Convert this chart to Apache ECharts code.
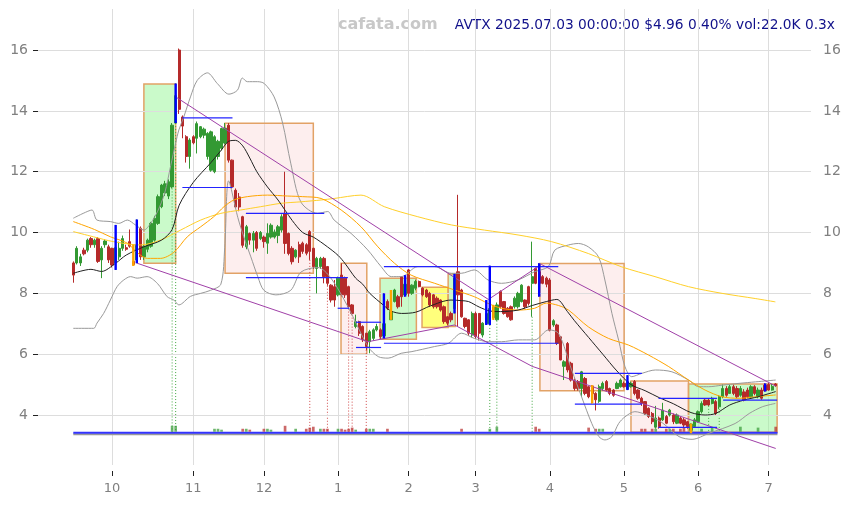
<!DOCTYPE html>
<html><head><meta charset="utf-8">
<script src="https://cdn.jsdelivr.net/npm/echarts@6/dist/echarts.min.js"></script>
<style>html,body{margin:0;padding:0;background:#fff}#c{width:849px;height:505px}</style>
</head><body><div id="c"></div>
<script>
// ---------- data ----------
const startDate = '2024-09-16', endDate = '2025-07-03';
const holidays = ['2024-11-28','2024-12-25','2025-01-01','2025-01-09','2025-01-20','2025-02-17','2025-04-18','2025-05-26','2025-06-19'];
const yTicks = [4, 6, 8, 10, 12, 14, 16];

const opens = [9.00,9.00,9.00,9.42,9.42,9.80,9.60,9.80,9.10,9.60, 9.53,9.48,9.00,9.20,9.48,9.50,9.70,9.05,9.10,10.14, 9.20,9.45,9.55,9.75,10.30,10.85,11.30,11.20,11.50,13.60, 16.00,13.80,13.15,12.50,13.15,13.10,13.15,13.20,12.50,12.05, 12.00,12.50,12.77,12.94,13.53,12.38,11.39,11.17,10.52,9.53, 9.97,9.75,10.00,9.80,9.85,9.65,9.85,9.85,9.90,10.08, 10.63,9.97,9.48,9.20,9.60,9.65,9.60,10.03,9.48,8.82, 8.88,9.15,8.88,8.27,8.22,7.95,8.60,8.50,8.22,7.62, 6.91,7.07,6.91,6.69,6.41,6.52,6.80,6.80,6.60,7.73, 7.13,7.73,7.89,8.55,7.95,8.77,8.00,8.17,8.39,8.17, 8.11,8.00,7.95,7.84,7.78,7.56,7.23,7.34,7.50,8.71, 8.11,7.18,7.13,6.63,7.34,7.34,6.63,7.00,7.00,7.20, 7.13,8.06,7.73,7.51,7.56,7.56,7.56,7.73,7.78,8.22, 8.33,8.82,8.71,8.55,8.50,8.44,6.96,6.96,6.57,5.60, 6.35,5.70,5.15,5.10,4.87,5.20,4.93,4.95,4.71,4.45, 4.87,5.10,4.87,4.82,4.87,4.93,5.04,4.85,4.93,5.10, 4.82,4.55,4.44,4.22,4.05,3.60,3.90,3.84,3.95,4.00, 4.00,3.73,3.90,3.84,3.78,3.50,3.62,3.78,4.11,4.49, 4.49,4.38,4.44,4.27,4.60,4.87,4.71,4.93,4.87,4.65, 4.76,4.82,4.60,4.93,4.60,4.82,4.98,5.00,4.82,5.02];
const closes = [8.60,9.48,9.20,9.30,9.75,9.60,9.75,9.05,9.48,9.72, 9.10,8.93,9.50,9.48,9.80,9.45,9.55,8.95,9.60,9.20, 9.55,9.75,10.30,10.47,11.18,11.56,11.60,11.67,13.53,14.50, 14.05,13.50,12.50,13.04,12.95,13.58,13.48,13.40,13.26,13.31, 13.15,13.00,13.42,13.43,12.38,11.50,10.84,10.84,9.58,10.19, 9.75,9.97,9.48,10.00,9.70,9.97,10.24,10.02,10.19,10.52, 9.64,9.31,9.04,9.42,9.20,9.38,9.32,9.38,8.88,9.15, 9.15,8.55,8.33,7.78,7.78,8.50,7.95,7.95,7.56,7.34, 7.07,6.69,6.47,6.25,6.74,6.80,6.91,6.58,7.00,7.51, 7.40,8.11,7.56,7.89,8.30,8.00,8.27,8.39,8.22,7.95, 7.89,7.62,7.56,7.56,7.45,7.07,7.02,7.13,8.50,7.95, 7.23,6.91,6.69,7.34,6.58,6.69,7.02,7.34,7.50,7.55, 7.62,7.56,7.34,7.23,7.13,7.84,8.00,8.27,7.56,7.67, 8.55,8.33,8.33,8.33,8.30,6.79,7.10,6.35,5.81,5.75, 5.48,5.15,4.87,4.87,5.42,4.71,4.60,4.70,4.50,4.93, 5.04,4.82,4.71,4.65,5.04,5.15,4.93,5.10,5.04,4.71, 4.55,4.38,4.05,3.95,3.78,3.90,3.62,4.16,3.73,4.16, 3.78,4.00,3.73,3.67,3.62,3.70,3.84,4.11,4.38,4.33, 4.33,4.55,4.05,4.60,4.87,4.65,4.93,4.71,4.60,4.87, 4.49,4.60,4.93,4.71,4.82,4.55,4.80,4.82,4.94,4.96];
const highs = [9.05,9.55,9.30,9.50,9.80,9.85,9.80,9.85,9.55,9.78, 9.60,9.50,10.25,9.70,9.90,9.60,10.10,9.60,10.43,10.20, 9.60,9.80,10.35,10.55,11.25,11.60,11.70,11.75,13.60,14.90, 16.05,13.85,13.20,13.10,13.20,13.65,13.50,13.45,13.30,13.35, 13.20,13.05,13.45,13.60,13.60,12.40,11.45,11.30,10.55,10.25, 10.00,10.05,10.05,10.05,9.90,10.30,10.30,10.10,10.25,10.60, 12.00,10.00,9.55,9.45,9.70,9.70,9.65,10.08,9.50,9.20, 9.20,9.20,8.90,8.30,8.44,8.55,8.99,8.55,8.25,7.65, 7.30,7.10,6.95,6.70,6.80,6.85,7.00,6.85,8.00,7.80, 8.11,8.15,7.95,8.55,8.60,8.80,8.30,8.45,8.42,8.20, 8.15,8.05,7.98,7.90,7.80,7.60,7.25,7.40,8.64,11.24, 8.15,7.20,7.15,7.40,7.40,7.35,7.05,7.78,8.91,7.62, 7.70,8.10,7.75,7.55,7.60,7.90,8.05,8.30,7.80,8.25, 9.70,8.85,8.99,8.60,8.55,8.50,7.15,7.00,6.60,5.80, 6.40,5.75,5.20,5.15,5.45,5.25,4.95,4.98,4.75,5.00, 5.10,5.15,4.90,4.85,5.10,5.20,5.10,5.31,5.10,5.15, 4.85,4.60,4.45,4.25,4.10,4.30,3.95,4.40,4.00,4.20, 4.05,4.05,3.95,3.90,3.80,3.72,3.90,4.15,4.45,4.55, 4.55,4.60,4.50,4.65,5.00,4.95,5.00,5.00,4.95,4.95, 4.85,4.90,4.98,4.98,4.90,4.90,5.04,5.05,5.02,5.05];
const lows = [8.35,8.95,8.90,9.25,9.35,9.50,9.50,9.00,8.50,9.50, 9.00,8.85,8.77,9.10,9.40,9.40,9.50,8.90,8.99,9.10, 9.10,9.35,9.50,9.70,10.25,10.80,11.20,11.10,11.45,13.60, 13.90,13.10,12.30,12.10,12.90,12.60,13.10,13.10,12.40,12.00, 11.95,12.40,12.70,12.90,12.30,11.45,10.80,10.70,9.50,9.45, 9.60,9.35,9.40,9.75,9.50,9.30,9.80,9.80,9.65,10.00, 9.30,9.25,8.95,9.15,9.00,9.30,9.25,9.10,8.80,8.00, 8.80,8.33,8.25,7.70,7.56,7.90,7.90,7.85,7.50,7.30, 6.85,6.60,6.40,6.14,6.03,6.45,6.75,6.50,6.52,7.45, 7.13,7.70,7.50,7.56,7.89,7.89,7.95,8.10,8.20,7.90, 7.85,7.55,7.50,7.50,7.40,7.00,6.95,7.05,7.34,6.91, 7.20,6.85,6.60,6.55,6.50,6.45,6.55,6.96,6.96,7.13, 7.10,7.50,7.30,7.20,7.10,7.50,7.50,7.70,7.50,7.60, 7.23,8.30,7.89,8.30,8.20,6.75,6.90,6.30,5.80,5.15, 5.40,5.10,4.80,4.80,4.60,4.65,4.55,4.38,4.15,4.40, 4.80,4.80,4.65,4.60,4.85,4.90,4.90,4.82,4.90,4.65, 4.50,4.30,4.00,3.90,3.70,3.55,3.55,3.80,3.70,3.95, 3.70,3.70,3.70,3.60,3.55,3.40,3.60,3.75,4.05,4.30, 4.30,4.35,4.00,4.20,4.55,4.60,4.70,4.65,4.55,4.60, 4.45,4.55,4.55,4.65,4.55,4.50,4.77,4.80,4.80,4.93];

// indicator lines: [candle index, value]
const ma20 = [[0,8.66],[5,8.79],[8,8.72],[12,8.99],[15,9.26],[20,9.53],[25,9.75],[28,10.1],[30,10.9],[34,11.65],[39,12.3],[42,12.72],[44,13.0],[46,13.03],[48,12.85],[50,12.45],[52,12.0],[55,11.5],[58,11.07],[62,10.4],[65,10.0],[68,9.85],[72,9.53],[75,9.25],[77,8.98],[80,8.5],[82,8.3],[84,8.0],[88,7.6],[90,7.42],[93,7.34],[97,7.38],[101,7.58],[107,7.78],[110,7.76],[112,7.73],[115,7.55],[118,7.42],[121,7.4],[126,7.45],[130,7.6],[134,7.73],[137,7.8],[140,7.4],[142,7.1],[146,6.55],[150,6.0],[154,5.45],[158,5.0],[162,4.8],[166,4.57],[170,4.37],[175,4.08],[179,4.0],[182,4.05],[186,4.33],[190,4.49],[194,4.6],[199,4.77]];
const bbUpper = [[0,10.47],[2.8,10.63],[5.3,10.74],[6.7,10.41],[10.5,10.36],[12.9,10.3],[15.3,10.41],[17.6,10.25],[20,10.08],[21.9,10.3],[23.9,10.7],[25.9,11.3],[27.6,12.2],[29,12.94],[29.9,13.37],[31.3,13.8],[33.2,14.46],[35.1,15.0],[38,15.25],[40.8,14.9],[44.1,14.55],[46.5,14.68],[47.9,15.08],[49.3,14.96],[52.2,14.96],[54.1,14.9],[56.9,14.46],[59.3,13.6],[61.6,12.28],[64.5,11.0],[69.2,10.63],[72.1,10.69],[73.9,10.41],[78.7,9.97],[83.4,9.43],[87.2,8.88],[90.1,8.55],[92.9,8.55],[97.6,8.88],[102.3,8.88],[107.1,8.66],[109.9,8.66],[113.6,8.77],[117.5,8.44],[121.3,8.33],[126,8.44],[130.7,8.71],[134.6,8.88],[136.4,9.42],[140.3,9.59],[143.1,9.64],[145.9,9.53],[148.8,9.2],[150.6,8.44],[152.6,7.34],[154.5,6.46],[156.3,5.59],[158.2,5.26],[161.1,5.37],[164.9,5.48],[169.6,5.42],[174.3,5.15],[177.2,4.93],[180,4.93],[183.8,4.98],[188.6,5.04],[193.3,5.09],[199,5.15]];
const bbLower = [[0,6.85],[5.8,6.85],[6.7,7.02],[8.6,7.34],[10.5,7.78],[12.4,8.22],[14.3,8.44],[16.2,8.55],[18.1,8.5],[20.9,8.55],[23.8,8.33],[26.6,7.89],[28.5,7.78],[29.9,7.62],[33.2,7.9],[36.1,8.0],[38.9,8.1],[41.8,8.3],[42.9,9.5],[44,11.7],[46.6,10.5],[48.3,9.86],[50.3,9.2],[52.3,8.54],[54,8.1],[57.4,7.95],[61.6,8.1],[64.5,8.7],[69.3,8.85],[73,8.5],[77.8,7.56],[83.5,6.25],[86.4,5.92],[89.2,5.87],[92.9,6.03],[95.7,6.08],[102.3,6.25],[106.3,6.36],[110,6.69],[113.6,6.52],[117.6,6.41],[121.3,6.41],[126.1,6.47],[130.7,6.47],[134.7,6.8],[137.5,6.68],[141.2,5.48],[144,4.6],[146.9,3.72],[148.9,3.29],[150.6,3.18],[152.6,3.29],[154.5,3.72],[156.3,3.94],[159.1,4.11],[162.5,4.0],[166.8,3.75],[171.6,3.29],[175.3,3.2],[180.1,3.4],[187.5,3.72],[191.5,4.05],[195.2,4.27],[198.9,4.38]];
const ma50 = [[0,10.36],[6,10.1],[10.5,9.86],[15.3,9.65],[18,9.35],[21,9.15],[24.7,9.15],[28.5,9.35],[32.3,9.86],[36.1,10.19],[39.8,10.52],[42.7,10.85],[45.5,11.07],[49.3,11.18],[55,11.23],[60.7,11.2],[65,11.18],[70.2,11.12],[75.9,10.74],[81.5,10.19],[86.3,9.53],[91,8.99],[95.7,8.6],[102.4,8.33],[108,8.11],[113.6,7.89],[117.5,7.67],[121.3,7.51],[126,7.45],[130.7,7.51],[134,7.68],[137.5,7.6],[140.3,7.45],[145.9,6.9],[151.6,6.52],[157.3,6.3],[163,5.97],[168.7,5.59],[174.3,5.15],[179,4.82],[183.8,4.6],[188.6,4.55],[193.3,4.6],[199,4.66]];
const ma100 = [[0,10.03],[5.7,9.86],[11.4,9.7],[19,9.59],[24.7,9.75],[30.4,10.08],[36.1,10.41],[41.8,10.63],[47.4,10.74],[53.1,10.85],[58.8,10.96],[64.5,11.01],[70.2,11.07],[73.9,11.12],[81.5,11.23],[88.1,10.85],[97.6,10.52],[107.1,10.25],[116.5,10.08],[126,9.92],[135.5,9.7],[145.9,9.31],[155.4,8.87],[164.8,8.55],[174.3,8.22],[183.8,8.0],[193.2,7.83],[198.9,7.72]];
const trendUpper = [[29,14.46],[117.6,7.8],[132.6,8.95],[199,4.95]];
const trendLower = [[18.1,8.99],[83.5,6.41],[108,6.96],[130,5.6],[199,2.9]];
// zones: [from index, to index, low, high, kind 0=green 1=pink 2=yellow]
const zones = [[20,29,8.99,14.88,0],[43,68,8.66,13.59,1],[75.85,83.15,6.0,8.99,1],[86.9,97.2,6.49,8.5,0],[98.8,106.2,6.88,8.2,2],[106.2,108.2,6.91,8.64,0],[132.2,156.05,4.8,8.98,1],[158,174.3,3.43,5.12,1],[174.3,199.4,3.43,5.02,0]];
// blue support / resistance segments: [from, to, level]
const levels = [[30.9,45.1,13.77],[30.9,45.1,11.48],[48.9,71.1,10.63],[48.9,77.8,8.52],[74.9,78.2,7.51],[80.1,87.2,7.05],[80.1,87.2,6.22],[88,137.4,8.88],[88,137.4,6.36],[142.1,161.1,5.37],[142.1,161.1,4.36],[165.8,182.4,4.55],[165.8,182.4,3.59],[184.1,199.4,4.49]];
const blueMarks = [12,18,29,88,94,108,117,118,132,157,196];
const orangeMarks = [17,90,119,147,175];
const dotGreen = [28,29,118,120,130,180,183];
const dotRed = [67,72,78,79,83];
const volIdx = [28,29,40,41,42,48,49,50,54,55,56,60,63,66,67,68,70,71,72,75,76,77,78,79,80,83,84,85,89,110,118,120,131,132,146,148,149,150,161,162,164,165,168,169,170,172,173,175,178,181,189,194,199];
const volK =   [26,26,13,13,9,13,13,9,13,13,9,26,13,13,18,22,13,13,13,13,13,9,13,18,9,13,13,13,13,13,13,22,22,13,18,13,13,13,13,13,13,13,13,13,13,13,18,18,13,18,22,18,22];
const stripLevel = 3.42;

// ---------- build ----------
function tradingDays(s, e) {
  const out = []; const d = new Date(s + 'T00:00:00Z'); const end = new Date(e + 'T00:00:00Z');
  while (d <= end) {
    const wd = d.getUTCDay(); const iso = d.toISOString().slice(0, 10);
    if (wd !== 0 && wd !== 6 && holidays.indexOf(iso) < 0) out.push(iso);
    d.setUTCDate(d.getUTCDate() + 1);
  }
  return out;
}
const dates = tradingDays(startDate, endDate);
const PAD = 10, N = dates.length;
const X = i => i + PAD;
const cats = [];
for (let k = 0; k < PAD; k++) cats.push('L' + k);
dates.forEach(d => cats.push(d));
for (let k = 0; k < PAD; k++) cats.push('R' + k);
const isMonthStart = (k) => { const r = k - PAD; return r >= 1 && r < N && dates[r].slice(0, 7) !== dates[r - 1].slice(0, 7); };
const candle = cats.map((c, k) => { const r = k - PAD; return (r >= 0 && r < N) ? [opens[r], closes[r], lows[r], highs[r]] : '-'; });
const GREEN = '#339933', RED = '#b52a2a';
const pts = arr => arr.map(p => [X(p[0]), p[1]]);
const lineS = (data, color, z, w) => ({ type: 'line', xAxisIndex: 1, data: pts(data), smooth: 0.3, symbol: 'none', silent: true, z: z, lineStyle: { color: color, width: w || 1 } });

const zoneFill = ['rgba(150,245,150,0.5)', 'rgba(250,205,205,0.35)', 'rgba(255,255,80,0.75)'];

const option = {
  animation: false,
  backgroundColor: '#ffffff',
  grid: { left: 38, right: 38, top: 9, bottom: 40 },
  xAxis: [{
    type: 'category', data: cats, boundaryGap: false, offset: 6,
    axisLine: { show: false },
    axisTick: { show: true, interval: (k) => isMonthStart(k), length: 5, lineStyle: { color: '#222' } },
    axisLabel: { interval: (k) => isMonthStart(k), formatter: v => v.length === 10 ? String(+v.slice(5, 7)) : '', color: '#808080', fontSize: 13, fontFamily: 'DejaVu Sans', margin: 11 },
    splitLine: { show: true, interval: (k) => isMonthStart(k), lineStyle: { color: '#dddddd', width: 1 } }
  }, {
    type: 'value', min: 0, max: N + 2 * PAD - 1, show: false
  }],
  yAxis: [{
    type: 'value', min: 2.356, max: 17.35, position: 'left',
    axisLine: { show: false },
    axisTick: { show: true, length: 5, lineStyle: { color: '#222' }, customValues: yTicks },
    axisLabel: { customValues: yTicks, color: '#808080', fontSize: 14, fontFamily: 'DejaVu Sans', margin: 10 },
    splitLine: { show: false }
  }, {
    type: 'value', min: 2.356, max: 17.35, position: 'right',
    axisLine: { show: false }, axisTick: { show: false },
    axisLabel: { customValues: yTicks, color: '#808080', fontSize: 14, fontFamily: 'DejaVu Sans', margin: 12 },
    splitLine: { show: false }
  }],
  graphic: [
    { type: 'text', x: 338, y: 25, style: { text: 'cafata.com', font: 'bold 16px "DejaVu Sans"', fill: '#c8c8c8', verticalAlign: 'middle' } },
    { type: 'text', x: 835, y: 25, style: { text: 'AVTX 2025.07.03 00:00:00 $4.96 0.40% vol:22.0K 0.3x', font: '13.75px "DejaVu Sans"', fill: '#10108a', align: 'right', verticalAlign: 'middle' } }
  ],
  series: [
    {
      type: 'custom', xAxisIndex: 1, z: 1, silent: true,
      data: zones.map(z => [X(z[0]), X(z[1]), z[2], z[3], z[4]]),
      encode: { x: [0, 1], y: [2, 3] },
      renderItem: (params, api) => {
        const p1 = api.coord([api.value(0), api.value(3)]);
        const p2 = api.coord([api.value(1), api.value(2)]);
        return { type: 'rect', shape: { x: p1[0], y: p1[1], width: p2[0] - p1[0], height: p2[1] - p1[1] },
          style: { fill: zoneFill[api.value(4)], stroke: '#e2a266', lineWidth: 1.5 } };
      }
    },
    {
      type: 'line', xAxisIndex: 1, data: [], z: 2, silent: true,
      markLine: { silent: true, symbol: 'none', label: { show: false }, lineStyle: { color: '#dddddd', width: 1, type: 'solid' },
        data: yTicks.map(v => ({ yAxis: v })) }
    },
    lineS([[0, stripLevel - 0.05], [N - 0.5, stripLevel - 0.05]], '#999999', 3, 2),
    lineS([[0, stripLevel], [N - 0.5, stripLevel]], '#3333ff', 3, 2),
    {
      type: 'custom', xAxisIndex: 1, z: 4, silent: true,
      data: volIdx.map((i, k) => [X(i), volK[k], closes[i] >= opens[i] ? 1 : 0]),
      encode: { x: 0, y: 1 },
      renderItem: (params, api) => {
        const x = api.value(0);
        const a = api.coord([x - 0.38, stripLevel + 0.03]);
        const b = api.coord([x + 0.38, stripLevel + 0.03 + api.value(1) * 0.0075]);
        return { type: 'rect', shape: { x: a[0], y: b[1], width: b[0] - a[0], height: a[1] - b[1] },
          style: { fill: api.value(2) ? GREEN : RED, opacity: 0.7 } };
      }
    },
    {
      type: 'custom', xAxisIndex: 1, z: 3, silent: true,
      data: dotGreen.map(i => [X(i), lows[i], 1]).concat(dotRed.map(i => [X(i), lows[i], 0])),
      encode: { x: 0, y: 1 },
      renderItem: (params, api) => {
        const a = api.coord([api.value(0), api.value(1)]);
        const b = api.coord([api.value(0), stripLevel]);
        return { type: 'line', shape: { x1: a[0], y1: a[1], x2: b[0], y2: b[1] },
          style: { stroke: api.value(2) ? '#44a844' : '#d04848', lineWidth: 1, lineDash: [1, 2] } };
      }
    },
    {
      type: 'candlestick', xAxisIndex: 0, z: 5, data: candle, barWidth: 2.8,
      itemStyle: { color: GREEN, color0: RED, borderColor: GREEN, borderColor0: RED, borderWidth: 1 }
    },
    lineS(bbUpper, '#999999', 6, 1),
    lineS(bbLower, '#999999', 6, 1),
    lineS(ma100, '#ffd02a', 6, 1),
    lineS(ma50, '#ffa500', 6, 1),
    lineS(ma20, '#222222', 6, 1),
    { type: 'line', xAxisIndex: 1, data: pts(trendUpper), symbol: 'none', silent: true, z: 7, lineStyle: { color: '#a040a8', width: 1 } },
    { type: 'line', xAxisIndex: 1, data: pts(trendLower), symbol: 'none', silent: true, z: 7, lineStyle: { color: '#a040a8', width: 1 } },
    {
      type: 'custom', xAxisIndex: 1, z: 8, silent: true,
      data: levels.map(l => [X(l[0]), X(l[1]), l[2]]),
      encode: { x: [0, 1], y: 2 },
      renderItem: (params, api) => {
        const a = api.coord([api.value(0), api.value(2)]);
        const b = api.coord([api.value(1), api.value(2)]);
        return { type: 'line', shape: { x1: a[0], y1: a[1], x2: b[0], y2: b[1] }, style: { stroke: '#2323ff', lineWidth: 1.2 } };
      }
    },
    {
      type: 'custom', xAxisIndex: 1, z: 9, silent: true,
      data: blueMarks.map(i => [X(i), lows[i], highs[i], 0]).concat(orangeMarks.map(i => [X(i), lows[i], highs[i], 1])),
      encode: { x: 0, y: [1, 2] },
      renderItem: (params, api) => {
        const a = api.coord([api.value(0), api.value(1)]);
        const b = api.coord([api.value(0), api.value(2)]);
        return { type: 'line', shape: { x1: a[0], y1: a[1], x2: b[0], y2: b[1] },
          style: { stroke: api.value(3) ? '#ffa500' : '#0000ff', lineWidth: 2.4 } };
      }
    }
  ]
};
const chart = echarts.init(document.getElementById('c'));
chart.setOption(option);
</script>
</body></html>
